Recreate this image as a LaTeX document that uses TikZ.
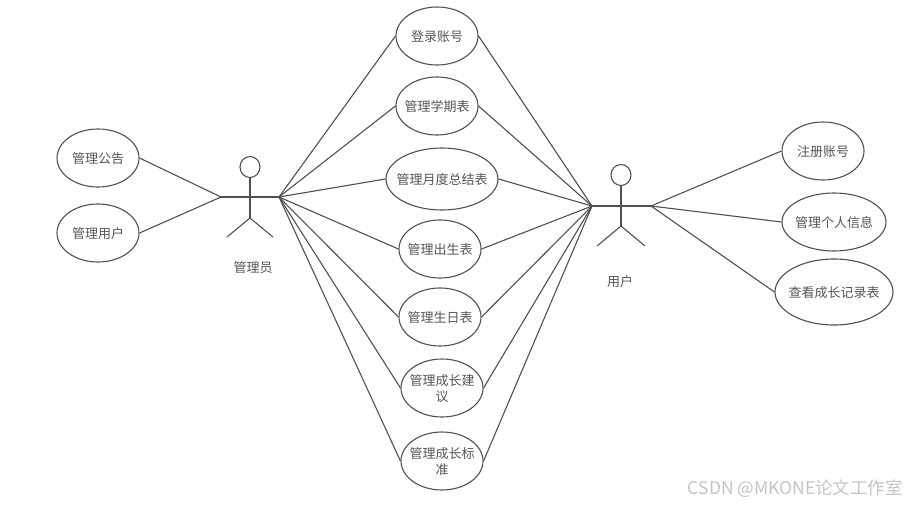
\documentclass[tikz,border=0pt]{standalone}
\usepackage{fontspec}
\setmainfont{Noto Sans CJK SC}
\usetikzlibrary{shapes.geometric}
\definecolor{linegray}{HTML}{505050}
\definecolor{textgray}{HTML}{555555}
\definecolor{markgray}{HTML}{C4C4C4}
\begin{document}
\begin{tikzpicture}[
    x=1pt, y=-1pt,
    usecase/.style={ellipse, draw=linegray, line width=1.1pt, minimum width=82pt, minimum height=58pt, align=center, inner xsep=-10pt, inner ysep=-4pt, text depth=0pt, text=textgray, font=\fontsize{13}{16}\selectfont},
    widecase/.style={usecase, minimum width=104pt},
    head/.style={ellipse, draw=linegray, line width=1.1pt, minimum width=20pt, minimum height=21pt, inner sep=0pt},
    limb/.style={draw=linegray, line width=1.1pt},
    link/.style={draw=linegray, line width=1.1pt},
    actorname/.style={text=textgray, text depth=0pt, font=\fontsize{13}{15}\selectfont}
]
\useasboundingbox (0, 0) rectangle (906, 504);

% Left use cases
\node[usecase] (notice) at (98, 158) {管理公告};
\node[usecase] (users) at (98, 233) {管理用户};

% Middle use cases
\node[usecase] (login) at (437, 36) {登录账号};
\node[usecase] (term) at (437, 106) {管理学期表};
\node[usecase, minimum width=112pt, minimum height=62pt] (monthly) at (442, 179) {管理月度总结表};
\node[usecase] (birth) at (440, 249) {管理出生表};
\node[usecase] (birthday) at (440, 317) {管理生日表};
\node[usecase] (advice) at (442, 388) {管理成长建\\议};
\node[usecase] (standard) at (442, 461) {管理成长标\\准};

% Right use cases
\node[usecase] (register) at (823, 151) {注册账号};
\node[widecase] (profile) at (834, 222) {管理个人信息};
\node[usecase, minimum width=118pt, minimum height=66pt] (records) at (834, 292) {查看成长记录表};

% Admin actor
\node[head] (adminhead) at (250, 167) {};
\coordinate (adminl) at (221, 197);
\coordinate (adminr) at (279, 197);
\coordinate (adminhip) at (250, 218);
\coordinate (adminfootl) at (227, 237);
\coordinate (adminfootr) at (273, 237);
\draw[limb] (adminl) -- (adminr);
\draw[limb] (adminhead) -- (adminhip);
\draw[limb] (adminfootl) -- (adminhip) -- (adminfootr);
\node[actorname] (adminname) at (253, 267) {管理员};

% User actor
\node[head] (userhead) at (621, 175) {};
\coordinate (userl) at (592, 206);
\coordinate (userr) at (651, 206);
\coordinate (userhip) at (621, 226);
\coordinate (userfootl) at (597, 246);
\coordinate (userfootr) at (645, 246);
\draw[limb] (userl) -- (userr);
\draw[limb] (userhead) -- (userhip);
\draw[limb] (userfootl) -- (userhip) -- (userfootr);
\node[actorname] (username) at (620, 281) {用户};

% Connectors
\draw[link] (notice.east) -- (adminl);
\draw[link] (users.east) -- (adminl);
\foreach \case in {login, term, monthly, birth, birthday, advice, standard} {
    \draw[link] (adminr) -- (\case.west);
    \draw[link] (\case.east) -- (userl);
}
\draw[link] (userr) -- (register.west);
\draw[link] (userr) -- (profile.west);
\draw[link] (userr) -- (records.west);

% Watermark
\node[text=markgray, font=\fontsize{17.5}{20}\selectfont, anchor=east, inner sep=0pt, text depth=0pt] (mark) at (903, 487) {CSDN @MKONE论文工作室};

\end{tikzpicture}
\end{document}
